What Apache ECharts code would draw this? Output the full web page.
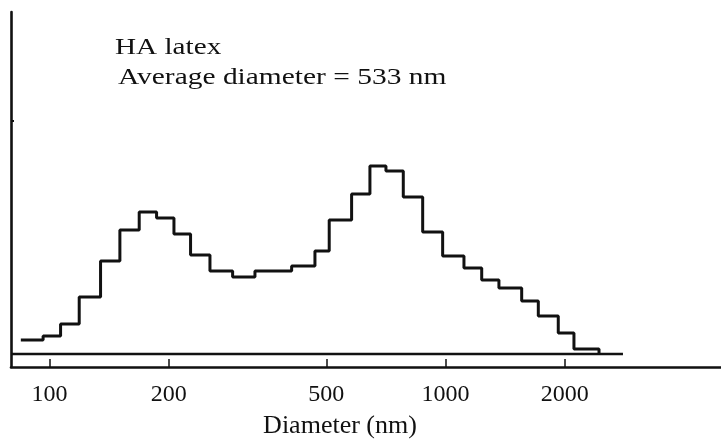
<!DOCTYPE html>
<html>
<head>
<meta charset="utf-8">
<script src="https://cdn.jsdelivr.net/npm/echarts@6/dist/echarts.min.js"></script>
<style>
html,body{margin:0;padding:0;background:#fff;}
#chart{width:721px;height:440px;}
</style>
</head>
<body>
<div id="chart"></div>
<script>
// Bin edges (nm): left edge of each bin, then the last right edge
var binEdges = [84.6, 96.3, 106.6, 118.8, 134.5, 150.5, 168.4, 186.3, 206.1, 227.0,
                254.1, 289.9, 330.1, 366.4, 408.6, 467.9, 508.4, 579.1, 644.2, 707.1,
                782.1, 875.5, 983.3, 1113, 1234, 1364, 1557, 1715, 1926, 2110, 2441];
// Relative frequency of each bin (arbitrary units)
var frequency = [1.4, 1.8, 3.0, 5.7, 9.3, 12.4, 14.2, 13.6, 12.0, 9.9,
                 8.3, 7.7, 8.3, 8.3, 8.8, 10.3, 13.4, 16.0, 18.8, 18.3,
                 15.7, 12.2, 9.8, 8.6, 7.4, 6.6, 5.3, 3.8, 2.1, 0.5];
var tickValues = [100, 200, 500, 1000, 2000];
var axisMinNm = 79.9, axisMaxNm = 4962;
var baselineEndNm = 2806;
var yAxisMark = [23.3];
var titleLine1 = 'HA latex';
var titleLine2 = 'Average diameter = 533 nm';
var xAxisTitle = 'Diameter (nm)';

var histData = [];
for (var i = 0; i < frequency.length; i++) histData.push([binEdges[i], frequency[i]]);
histData.push([binEdges[binEdges.length - 1], 0]);
var baseData = [[axisMinNm, 0], [baselineEndNm, 0]];

var ink = '#111111';
var serif = '"Liberation Serif", "Times New Roman", serif';
var chart = echarts.init(document.getElementById('chart'), null, {renderer: 'canvas'});
chart.setOption({
  animation: false,
  backgroundColor: '#ffffff',
  grid: {left: 11, right: 0, top: 12, bottom: 73, containLabel: false, outerBoundsMode: 'none'},
  xAxis: {
    type: 'log', logBase: 10, min: axisMinNm, max: axisMaxNm,
    name: xAxisTitle, nameLocation: 'middle', nameGap: 46,
    nameTextStyle: {fontFamily: serif, fontSize: 26, color: ink, padding: [0, 52, 0, 0]},
    axisLine: {show: true, onZero: false, lineStyle: {color: ink, width: 2.6}},
    axisTick: {show: true, inside: true, length: 8, customValues: tickValues, lineStyle: {color: ink, width: 1.5}},
    minorTick: {show: false},
    axisLabel: {show: true, customValues: tickValues, margin: 16, fontFamily: serif, fontSize: 24, color: ink,
                formatter: function (v) { return String(Math.round(v)); }},
    splitLine: {show: false}, minorSplitLine: {show: false}
  },
  yAxis: {
    type: 'value', min: -1.3, max: 34.2,
    axisLine: {show: true, onZero: false, lineStyle: {color: ink, width: 2.6}},
    axisTick: {show: true, inside: true, length: 3, customValues: yAxisMark, lineStyle: {color: ink, width: 2}},
    axisLabel: {show: false},
    splitLine: {show: false}
  },
  series: [
    {type: 'line', step: 'end', data: histData, showSymbol: false, symbol: 'none',
     lineStyle: {color: ink, width: 3}, z: 3},
    {type: 'line', data: baseData, showSymbol: false, symbol: 'none',
     lineStyle: {color: ink, width: 2.4}, z: 2}
  ],
  graphic: [
    {type: 'text', x: 115, y: 47.5, scaleX: 1.27, scaleY: 1,
     style: {text: titleLine1, x: 0, y: 0, font: '23px ' + serif, fill: ink, textAlign: 'left', textVerticalAlign: 'middle'}},
    {type: 'text', x: 118, y: 77.5, scaleX: 1.28, scaleY: 1,
     style: {text: titleLine2, x: 0, y: 0, font: '23px ' + serif, fill: ink, textAlign: 'left', textVerticalAlign: 'middle'}}
  ]
});
</script>
</body>
</html>
